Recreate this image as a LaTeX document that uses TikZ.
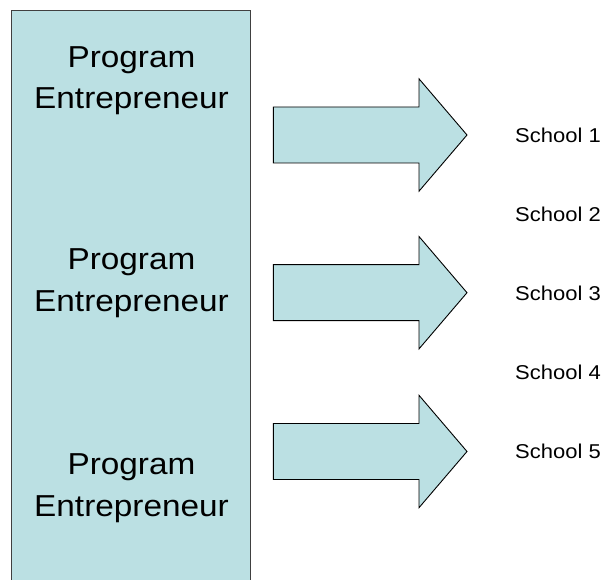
\documentclass[tikz,border=0pt]{standalone}
\usepackage{fontspec}
\setmainfont{Liberation Sans}
\newfontfamily\widefont[FakeStretch=1.1]{Liberation Sans}
\begin{document}
\begin{tikzpicture}[x=1pt,y=-1pt,
  panelfill/.style={fill=paneblue},
  bigarrow/.style={fill=paneblue,draw=black,line width=0.9pt,line join=miter},
  pelabel/.style={font=\widefont\fontsize{30.3}{41}\selectfont,anchor=base,inner sep=0pt,text=black},
  schoollabel/.style={font=\widefont\fontsize{20}{24}\selectfont,anchor=base west,inner sep=0pt,text=black}]
\definecolor{paneblue}{HTML}{BBE0E3}
\definecolor{paneedge}{HTML}{404040}
\useasboundingbox (0,0) rectangle (606,580);
\fill[white] (0,0) rectangle (606,580);

% tall panel holding the three entrepreneurs (runs off the bottom)
\path[panelfill] (11,10.7) rectangle (250.7,590);
\draw[paneedge,line width=1pt] (11,590) -- (11,10.7) -- (250.7,10.7) -- (250.7,590);

\node[pelabel] (pe1a) at (131.5,67.3) {Program};
\node[pelabel] (pe1b) at (131.5,108.3) {Entrepreneur};
\node[pelabel] (pe2a) at (131.5,270) {Program};
\node[pelabel] (pe2b) at (131.5,311.5) {Entrepreneur};
\node[pelabel] (pe3a) at (131.5,475) {Program};
\node[pelabel] (pe3b) at (131.5,516) {Entrepreneur};

% block arrows
\foreach \t/\n in {135/1,292.7/2,451.5/3}{
  \draw[bigarrow]
    (273.3,\t-28) -- (419,\t-28) -- (419,\t-56.2) -- (467,\t)
    -- (419,\t+56.2) -- (419,\t+28) -- (273.3,\t+28) -- cycle;
}

% schools
\node[schoollabel] (s1) at (515,142.3) {School 1};
\node[schoollabel] (s2) at (515,221.4) {School 2};
\node[schoollabel] (s3) at (515,300.5) {School 3};
\node[schoollabel] (s4) at (515,379.6) {School 4};
\node[schoollabel] (s5) at (515,458.7) {School 5};
\end{tikzpicture}
\end{document}
